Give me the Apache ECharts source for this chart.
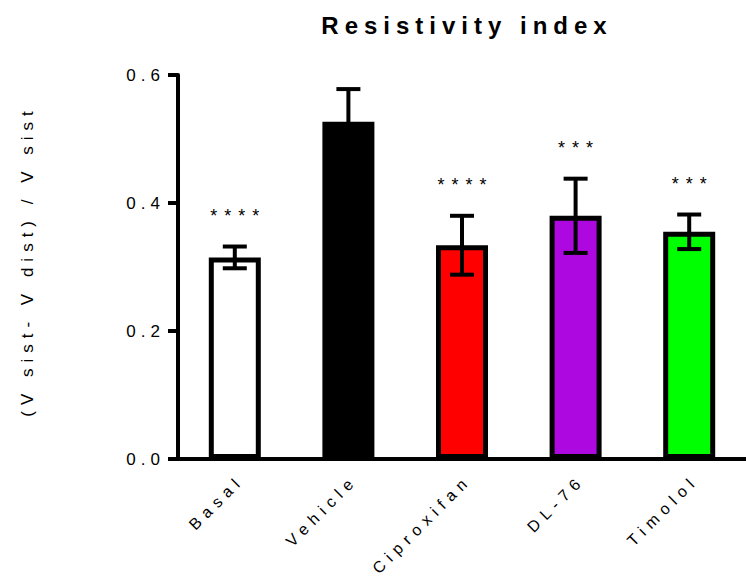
<!DOCTYPE html>
<html><head><meta charset="utf-8">
<script src="https://cdn.jsdelivr.net/npm/echarts@6/dist/echarts.min.js"></script>
<style>html,body{margin:0;padding:0;background:#fff}#c{width:746px;height:578px}</style>
</head><body><div id="c"></div>
<script>
const categories = ['Basal', 'Vehicle', 'Ciproxifan', 'DL-76', 'Timolol'];
const means = [0.315, 0.527, 0.334, 0.380, 0.355];
const errors = [0.017, 0.051, 0.046, 0.058, 0.027];
const stars = ['****', '', '****', '***', '***'];
const barColors = ['#ffffff', '#000000', '#ff0000', '#ad08e0', '#00ff00'];
const yTicks = { min: 0, max: 0.6, interval: 0.2 };
const titleText = 'Resistivity index';
const yName = '(V sist- V dist) / V sist';

const FONT = '"Liberation Sans", Arial, sans-serif';
const el = document.getElementById('c');
const chart = echarts.init(el, null, { renderer: 'svg' });
chart.setOption({
  animation: false,
  backgroundColor: '#fff',
  graphic: [{
    type: 'text', x: 464, y: 25.5,
    style: { text: titleText, font: 'bold 24px ' + FONT, fill: '#000', align: 'center', verticalAlign: 'middle' }
  }, {
    type: 'text', x: 27, y: 264, rotation: Math.PI / 2,
    style: { text: yName, font: '17px ' + FONT, fill: '#000', align: 'center', verticalAlign: 'middle' }
  }],
  grid: { left: 178, width: 575, top: 75, bottom: 119 },
  xAxis: {
    type: 'category', data: categories,
    axisLine: { lineStyle: { color: '#000', width: 4 } },
    axisTick: { alignWithLabel: true, length: 10, lineStyle: { color: '#000', width: 4 } },
    axisLabel: { rotate: 45, margin: 25, interval: 0, fontFamily: FONT, fontSize: 16, color: '#000' }
  },
  yAxis: {
    type: 'value', min: yTicks.min, max: yTicks.max, interval: yTicks.interval,
    axisLine: { show: true, lineStyle: { color: '#000', width: 4 } },
    axisTick: { show: true, length: 10, lineStyle: { color: '#000', width: 4 } },
    axisLabel: { margin: 18, fontFamily: FONT, fontSize: 17, color: '#000', formatter: v => v.toFixed(1) },
    splitLine: { show: false }
  },
  series: [{
    type: 'bar', barWidth: 52,
    data: means.map((v, i) => ({ value: v, itemStyle: { color: barColors[i], borderColor: '#000', borderWidth: 5 } }))
  }, {
    type: 'custom', z: 5,
    data: means.map((v, i) => [i, v, errors[i]]),
    renderItem: function (params, api) {
      const i = api.value(0), m = api.value(1), e = api.value(2);
      const top = api.coord([i, m + e]);
      const bot = api.coord([i, m - e]);
      const hw = 12;
      const ls = { stroke: '#000', lineWidth: 4 };
      return {
        type: 'group', children: [
          { type: 'line', shape: { x1: top[0], y1: top[1], x2: bot[0], y2: bot[1] }, style: ls },
          { type: 'line', shape: { x1: top[0] - hw, y1: top[1], x2: top[0] + hw, y2: top[1] }, style: ls },
          { type: 'line', shape: { x1: bot[0] - hw, y1: bot[1], x2: bot[0] + hw, y2: bot[1] }, style: ls },
          { type: 'text', style: { text: stars[params.dataIndex], x: top[0], y: top[1] - 31, align: 'center', verticalAlign: 'middle', font: '18px ' + FONT, fill: '#000' } }
        ]
      };
    }
  }]
});

// GraphPad-style wide letter spacing on the SVG text
function spacingFor(t) {
  if (t === titleText) return [6, 0];
  if (t === yName) return [6, 0];
  if (/^\*+$/.test(t)) return [7, 0];
  if (/^\d\.\d$/.test(t)) return [5, 0];
  if (categories.indexOf(t) >= 0) return [6, 3];
  return null;
}
function applySpacing() {
  el.querySelectorAll('text').forEach(n => {
    const s = spacingFor(n.textContent);
    if (!s) return;
    const anchor = n.getAttribute('text-anchor') || 'start';
    const dx = anchor === 'end' ? s[0] + s[1] : anchor === 'middle' ? s[0] / 2 : 0;
    n.setAttribute('letter-spacing', s[0]);
    n.style.letterSpacing = s[0] + 'px';
    n.setAttribute('dx', dx);
  });
}
applySpacing();
chart.on('finished', applySpacing);
new MutationObserver(applySpacing).observe(el, { childList: true, subtree: true });
</script></body></html>
